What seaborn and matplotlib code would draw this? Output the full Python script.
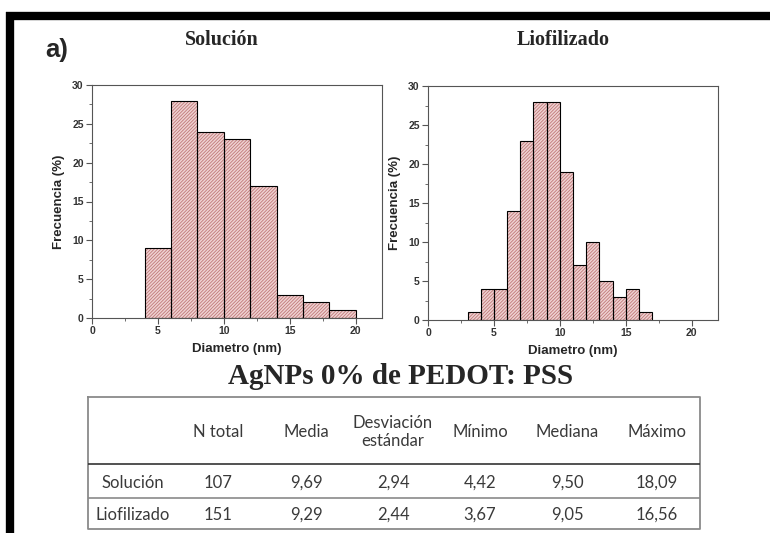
import pandas as pd
import matplotlib
matplotlib.use("Agg")
import matplotlib.pyplot as plt
import seaborn as sns
from matplotlib.ticker import MultipleLocator

# histogram data (bin edges and counts in %)
sol_edges = [4, 6, 8, 10, 12, 14, 16, 18, 20]
sol_counts = [9, 28, 24, 23, 17, 3, 2, 1]
lio_edges = [3, 4, 5, 6, 7, 8, 9, 10, 11, 12, 13, 14, 15, 16, 17]
lio_counts = [1, 4, 4, 14, 23, 28, 28, 19, 7, 10, 5, 3, 4, 1]

# summary table
table_cols = ["N total", "Media", "Desviación\nestándar", "Mínimo", "Mediana", "Máximo"]
table_rows = ["Solución", "Liofilizado"]
table_vals = [["107", "9,69", "2,94", "4,42", "9,50", "18,09"],
              ["151", "9,29", "2,44", "3,67", "9,05", "16,56"]]

sns.set_style("ticks")
plt.rcParams["hatch.linewidth"] = 0.6
plt.rcParams["font.family"] = ["Liberation Sans", "DejaVu Sans"]

face = "#efd2d2"
hatch_col = "#c07878"
spine_col = "#555555"

fig = plt.figure(figsize=(7.7, 5.33), dpi=100)

ax1 = fig.add_axes([92 / 770, 1 - 318 / 533, 290 / 770, 233 / 533])
ax2 = fig.add_axes([428 / 770, 1 - 320 / 533, 290 / 770, 234 / 533])


def draw_hist(ax, edges, counts):
    edges = [float(e) for e in edges]
    centers = [(a + b) / 2 for a, b in zip(edges[:-1], edges[1:])]
    df = pd.DataFrame({"d": centers, "f": counts})
    # hatched fill (hatch colour follows edge colour)
    sns.histplot(data=df, x="d", weights="f", bins=edges, ax=ax,
                 color=face, edgecolor=hatch_col, linewidth=0, alpha=1)
    for p in ax.patches:
        p.set_hatch("//////////")
        p.set_facecolor(face)
    # black outlines on top
    sns.histplot(data=df, x="d", weights="f", bins=edges, ax=ax,
                 fill=False, color="black", linewidth=0.8)
    ax.set_xlim(0, 22)
    ax.set_ylim(0, 30)
    ax.xaxis.set_major_locator(MultipleLocator(5))
    ax.xaxis.set_minor_locator(MultipleLocator(2.5))
    ax.yaxis.set_major_locator(MultipleLocator(5))
    ax.yaxis.set_minor_locator(MultipleLocator(2.5))
    for s in ax.spines.values():
        s.set_color(spine_col)
        s.set_linewidth(0.8)
        s.set_visible(True)
    ax.tick_params(which="major", direction="out", length=4, width=0.8,
                   color=spine_col, labelsize=7.5, pad=2)
    ax.tick_params(which="minor", direction="out", length=2, width=0.6,
                   color=spine_col)
    for lab in ax.get_xticklabels() + ax.get_yticklabels():
        lab.set_fontweight("bold")
        lab.set_color("#333333")
    ax.set_xlabel("Diametro (nm)", fontsize=9.5, fontweight="bold", labelpad=5)
    ax.set_ylabel("Frecuencia (%)", fontsize=9.5, fontweight="bold", labelpad=5)


draw_hist(ax1, sol_edges, sol_counts)
draw_hist(ax2, lio_edges, lio_counts)

serif = ["Liberation Serif", "DejaVu Serif"]
fig.text(222 / 770, 1 - 40 / 533, "Solución", family=serif, fontweight="bold",
         fontsize=14.5, ha="center", va="center")
fig.text(563 / 770, 1 - 40 / 533, "Liofilizado", family=serif, fontweight="bold",
         fontsize=14.5, ha="center", va="center")
fig.text(45 / 770, 1 - 50 / 533, "a)", fontweight="bold", fontsize=18.5,
         ha="left", va="center")
fig.text(401 / 770, 1 - 377 / 533, "AgNPs 0% de PEDOT: PSS", family=serif,
         fontweight="bold", fontsize=21, ha="center", va="center")

# black frame (top and left)
fig.add_artist(plt.Line2D([6 / 770, 1], [1 - 16 / 533, 1 - 16 / 533],
                          color="black", linewidth=6, solid_capstyle="butt"))
fig.add_artist(plt.Line2D([10 / 770, 10 / 770], [1 - 12 / 533, 0],
                          color="black", linewidth=6, solid_capstyle="butt"))

# table
tx0, tx1 = 88, 700
ty0, ty1 = 397, 529
tax = fig.add_axes([tx0 / 770, 1 - ty1 / 533, (tx1 - tx0) / 770, (ty1 - ty0) / 533])
tax.set_xlim(tx0, tx1)
tax.set_ylim(ty1, ty0)
tax.axis("off")
gray = "#8a8a8a"
tax.plot([tx0, tx1, tx1, tx0, tx0], [ty0, ty0, ty1, ty1, ty0], color=gray, lw=1.3,
         clip_on=False)
tax.plot([tx0, tx1], [464, 464], color="#333333", lw=1.2)
tax.plot([tx0, tx1], [497.5, 497.5], color=gray, lw=1.2)

cfont = ["Lato", "DejaVu Sans"]
col_x = [218, 306, 393, 480, 567, 657]
row_y = [483, 515]
for cx, c in zip(col_x, table_cols):
    tax.text(cx, 432, c, ha="center", va="center", fontsize=12, family=cfont,
             color="#3a3a3a", linespacing=1.15)
for ry, r, vals in zip(row_y, table_rows, table_vals):
    tax.text(133, ry, r, ha="center", va="center", fontsize=12, family=cfont,
             color="#3a3a3a")
    for cx, v in zip(col_x, vals):
        tax.text(cx, ry, v, ha="center", va="center", fontsize=12, family=cfont,
                 color="#3a3a3a")

fig.savefig("out.png", dpi=100)
